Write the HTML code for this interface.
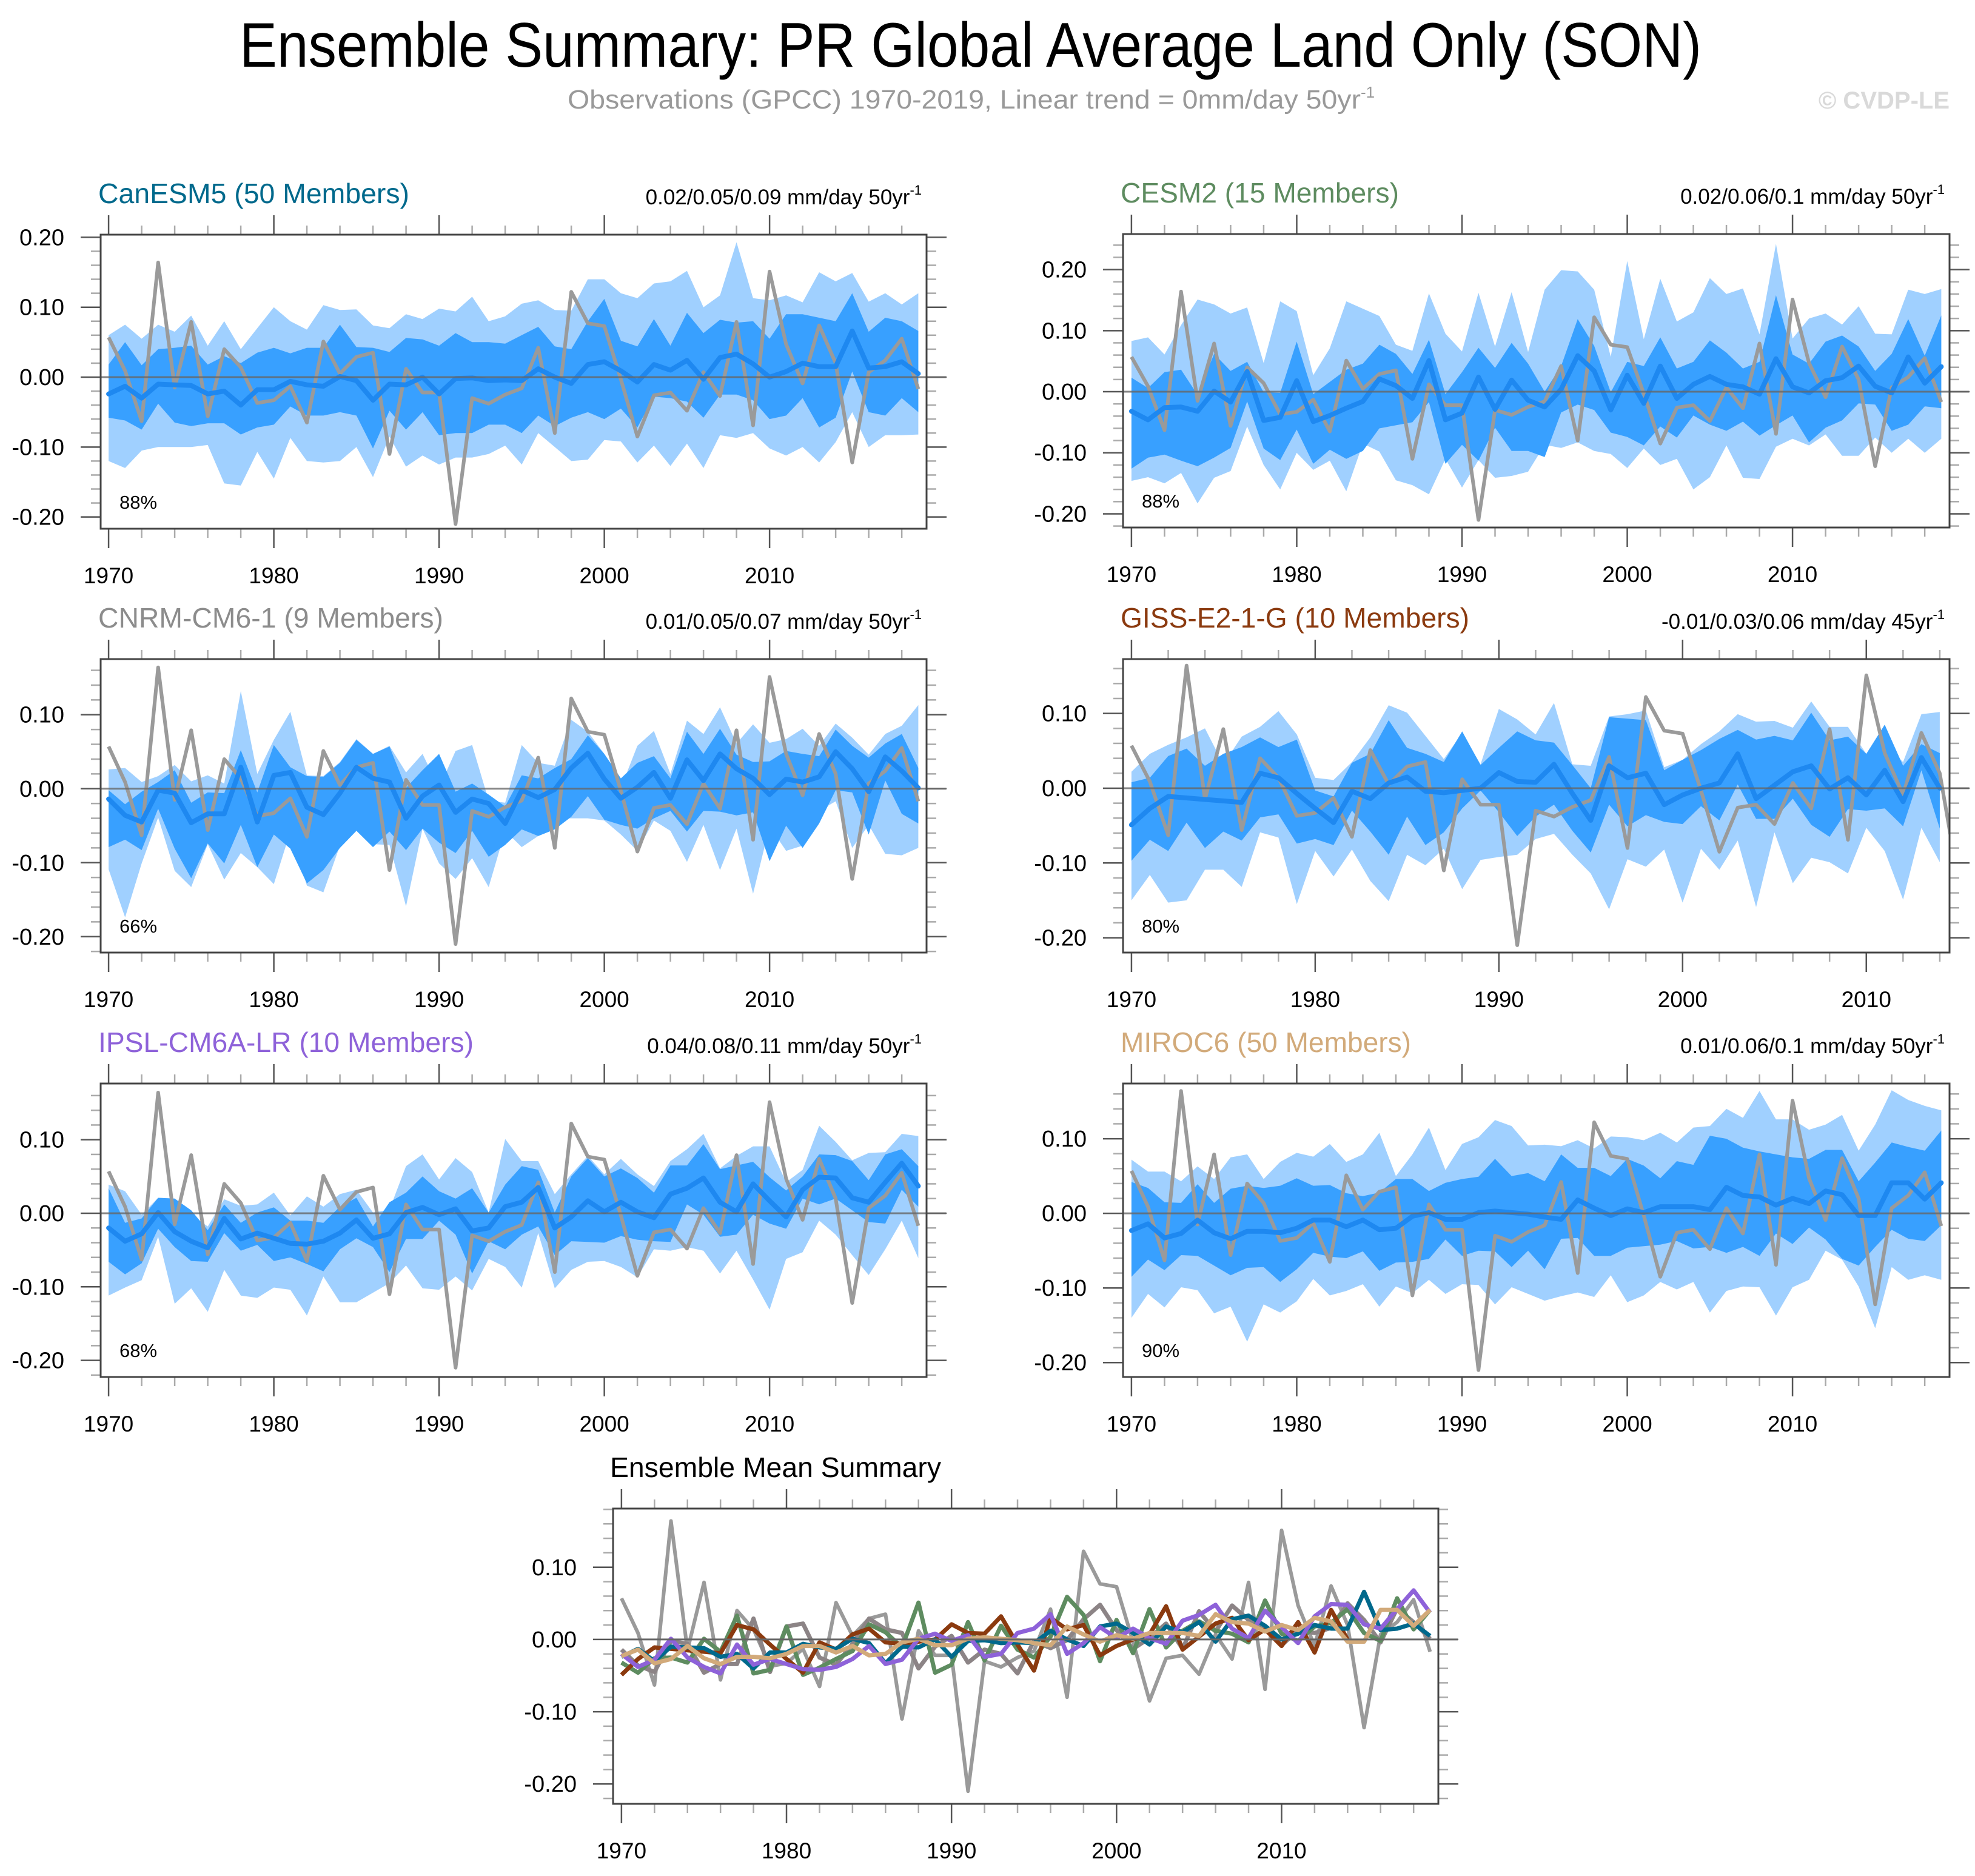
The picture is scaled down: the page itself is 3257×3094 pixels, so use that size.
<!DOCTYPE html>
<html><head><meta charset="utf-8">
<style>
html,body{margin:0;padding:0;background:#fff;}
svg{display:block;font-family:"Liberation Sans",Arial,sans-serif;}
</style></head>
<body>
<svg id="chart" xmlns="http://www.w3.org/2000/svg" width="3257" height="3094" viewBox="0 0 3257 3094">
<rect x="0" y="0" width="3257" height="3094" fill="#fff"/>
<text x="395" y="110" font-size="104" fill="#000" textLength="2411" lengthAdjust="spacingAndGlyphs">Ensemble Summary: PR Global Average Land Only (SON)</text>
<text x="936" y="179" font-size="44" fill="#999"><tspan textLength="1308" lengthAdjust="spacingAndGlyphs">Observations (GPCC) 1970-2019, Linear trend = 0mm/day 50yr</tspan><tspan font-size="26" dy="-18">-1</tspan></text>
<text x="3215" y="179" font-size="40" font-weight="bold" fill="#d9d9d9" text-anchor="end">© CVDP-LE</text>
</svg>
<script>
// ---- data ----
const years = [1970,1971,1972,1973,1974,1975,1976,1977,1978,1979,1980,1981,1982,1983,1984,1985,1986,1987,1988,1989,1990,1991,1992,1993,1994,1995,1996,1997,1998,1999,2000,2001,2002,2003,2004,2005,2006,2007,2008,2009,2010,2011,2012,2013,2014,2015,2016,2017,2018,2019];
const yearsGiss = years.slice(0,45);
const obs = [0.057,0.009,-0.063,0.164,-0.015,0.079,-0.056,0.040,0.014,-0.037,-0.033,-0.013,-0.065,0.051,0.005,0.029,0.035,-0.110,0.012,-0.022,-0.022,-0.210,-0.030,-0.038,-0.025,-0.016,0.042,-0.080,0.122,0.077,0.073,-0.003,-0.085,-0.026,-0.022,-0.048,0.007,-0.027,0.079,-0.069,0.151,0.047,-0.009,0.074,0.020,-0.122,0.007,0.024,0.055,-0.017];

const canMean = [-0.024,-0.013,-0.030,-0.010,-0.011,-0.012,-0.024,-0.020,-0.040,-0.018,-0.018,-0.006,-0.011,-0.013,0.001,-0.005,-0.033,-0.010,-0.011,0.000,-0.024,-0.002,-0.001,-0.005,-0.004,-0.005,0.012,0.000,-0.009,0.018,0.022,0.009,-0.007,0.018,0.010,0.024,-0.003,0.028,0.033,0.019,0.000,0.008,0.020,0.015,0.015,0.066,0.013,0.015,0.022,0.005];
const canHi2 = [0.060,0.075,0.055,0.075,0.065,0.088,0.045,0.080,0.040,0.070,0.100,0.080,0.068,0.103,0.096,0.097,0.074,0.070,0.090,0.083,0.098,0.094,0.115,0.080,0.087,0.105,0.110,0.096,0.095,0.140,0.140,0.120,0.113,0.134,0.137,0.152,0.100,0.117,0.193,0.113,0.110,0.117,0.107,0.150,0.137,0.149,0.108,0.120,0.104,0.120];
const canHi1 = [0.018,0.050,0.017,0.040,0.042,0.045,0.018,0.030,0.020,0.035,0.042,0.034,0.042,0.042,0.075,0.043,0.042,0.036,0.056,0.054,0.045,0.063,0.050,0.050,0.048,0.060,0.072,0.044,0.040,0.080,0.112,0.052,0.044,0.083,0.045,0.092,0.063,0.082,0.078,0.080,0.055,0.090,0.090,0.085,0.080,0.120,0.065,0.085,0.080,0.066];
const canLo1 = [-0.058,-0.062,-0.075,-0.038,-0.065,-0.070,-0.066,-0.066,-0.082,-0.072,-0.068,-0.042,-0.055,-0.055,-0.050,-0.055,-0.102,-0.048,-0.075,-0.050,-0.083,-0.080,-0.080,-0.068,-0.068,-0.080,-0.055,-0.070,-0.058,-0.050,-0.060,-0.045,-0.072,-0.028,-0.030,-0.035,-0.058,-0.025,-0.025,-0.033,-0.060,-0.055,-0.030,-0.072,-0.058,0.008,-0.050,-0.055,-0.030,-0.050];
const canLo2 = [-0.120,-0.130,-0.105,-0.100,-0.100,-0.100,-0.097,-0.152,-0.155,-0.107,-0.145,-0.087,-0.120,-0.122,-0.120,-0.100,-0.143,-0.085,-0.128,-0.112,-0.125,-0.115,-0.115,-0.110,-0.098,-0.125,-0.080,-0.100,-0.120,-0.118,-0.090,-0.092,-0.122,-0.098,-0.127,-0.095,-0.130,-0.083,-0.087,-0.080,-0.102,-0.112,-0.100,-0.122,-0.093,-0.050,-0.100,-0.083,-0.083,-0.082];

const cesmMean = [-0.032,-0.046,-0.026,-0.025,-0.032,0.001,-0.017,0.033,-0.047,-0.042,0.018,-0.049,-0.039,-0.027,-0.016,0.021,0.010,-0.011,0.051,-0.046,-0.035,0.024,-0.029,0.019,-0.014,-0.025,0.004,0.059,0.034,-0.030,0.027,-0.019,0.042,-0.011,0.012,0.025,0.012,0.008,-0.004,0.054,0.008,-0.002,0.018,0.023,0.042,0.009,-0.002,0.057,0.014,0.041];
const cesmHi2 = [0.083,0.089,0.061,0.109,0.151,0.143,0.128,0.138,0.047,0.148,0.132,0.027,0.071,0.148,0.136,0.124,0.077,0.067,0.161,0.095,0.066,0.162,0.074,0.163,0.065,0.167,0.199,0.197,0.167,0.057,0.214,0.086,0.185,0.115,0.130,0.186,0.160,0.169,0.094,0.242,0.087,0.120,0.128,0.110,0.140,0.095,0.094,0.167,0.160,0.168];
const cesmHi1 = [0.023,0.006,0.032,0.036,-0.005,0.062,0.034,0.049,-0.001,-0.002,0.082,-0.004,0.016,0.036,0.046,0.077,0.062,0.029,0.085,-0.004,0.032,0.072,0.039,0.080,0.046,0.000,0.042,0.119,0.075,-0.001,0.049,0.042,0.089,0.038,0.049,0.084,0.064,0.038,0.049,0.158,0.061,0.046,0.082,0.092,0.074,0.034,0.062,0.119,0.059,0.125];
const cesmLo1 = [-0.126,-0.108,-0.103,-0.113,-0.122,-0.108,-0.092,-0.016,-0.093,-0.112,-0.062,-0.118,-0.095,-0.110,-0.097,-0.060,-0.055,-0.050,-0.017,-0.118,-0.087,-0.113,-0.059,-0.097,-0.097,-0.107,-0.034,-0.021,-0.030,-0.067,-0.074,-0.088,-0.057,-0.075,-0.039,-0.054,-0.064,-0.049,-0.072,-0.055,-0.039,-0.083,-0.059,-0.047,-0.019,-0.021,-0.064,-0.054,-0.024,-0.027];
const cesmLo2 = [-0.146,-0.140,-0.150,-0.133,-0.183,-0.141,-0.130,-0.057,-0.120,-0.160,-0.100,-0.128,-0.113,-0.163,-0.085,-0.098,-0.145,-0.153,-0.168,-0.110,-0.157,-0.112,-0.141,-0.138,-0.131,-0.087,-0.092,-0.083,-0.097,-0.102,-0.125,-0.093,-0.120,-0.110,-0.160,-0.140,-0.088,-0.141,-0.143,-0.090,-0.077,-0.088,-0.070,-0.105,-0.105,-0.075,-0.100,-0.077,-0.100,-0.077];

const cnrmMean = [-0.014,-0.036,-0.045,-0.002,-0.006,-0.046,-0.034,-0.034,0.029,-0.045,0.018,0.022,-0.025,-0.035,-0.006,0.029,0.014,0.009,-0.040,-0.010,0.005,-0.032,-0.014,-0.020,-0.047,-0.002,-0.012,-0.001,0.028,0.048,0.013,-0.013,0.002,0.022,-0.013,0.039,0.011,0.047,0.027,0.014,-0.008,0.013,0.009,0.016,0.050,0.027,-0.004,0.043,0.024,0.001];
const cnrmHi2 = [0.026,0.028,0.009,0.017,0.032,0.010,0.018,0.007,0.132,0.020,0.066,0.104,0.018,0.017,0.036,0.067,0.047,0.058,0.022,0.047,0.001,0.051,0.059,-0.016,-0.019,0.059,0.035,0.031,0.093,0.077,0.047,0.001,0.058,0.078,0.020,0.092,0.074,0.110,0.061,0.087,0.062,0.067,0.081,0.058,0.088,0.069,0.046,0.074,0.085,0.113];
const cnrmHi1 = [-0.002,-0.021,-0.004,0.009,0.025,-0.019,-0.005,-0.006,0.052,-0.005,0.059,0.029,0.017,0.016,0.035,0.066,0.047,0.057,0.001,0.025,0.047,-0.004,0.007,-0.008,-0.024,0.018,0.014,0.028,0.040,0.072,0.047,0.014,0.035,0.044,0.014,0.077,0.047,0.081,0.046,0.036,0.037,0.051,0.047,0.044,0.080,0.058,0.042,0.061,0.074,0.028];
const cnrmLo1 = [-0.079,-0.069,-0.083,-0.027,-0.081,-0.121,-0.074,-0.101,-0.049,-0.106,-0.062,-0.081,-0.128,-0.110,-0.080,-0.057,-0.079,-0.058,-0.083,-0.054,-0.073,-0.087,-0.057,-0.092,-0.076,-0.055,-0.064,-0.055,-0.038,-0.010,-0.042,-0.049,-0.054,-0.040,-0.030,-0.058,-0.030,-0.031,-0.036,-0.032,-0.098,-0.050,-0.080,-0.047,-0.002,-0.005,-0.062,0.011,-0.034,-0.047];
const cnrmLo2 = [-0.109,-0.174,-0.101,-0.039,-0.111,-0.133,-0.075,-0.123,-0.087,-0.106,-0.129,-0.058,-0.131,-0.140,-0.077,-0.049,-0.075,-0.076,-0.159,-0.054,-0.101,-0.122,-0.094,-0.133,-0.057,-0.079,-0.064,-0.040,-0.040,-0.040,-0.043,-0.062,-0.084,-0.043,-0.057,-0.099,-0.049,-0.110,-0.054,-0.142,-0.051,-0.084,-0.077,-0.030,-0.017,-0.080,-0.049,-0.088,-0.090,-0.080];

const gissMean = [-0.049,-0.027,-0.011,-0.013,-0.015,-0.017,-0.019,0.020,0.014,-0.007,-0.027,-0.046,-0.004,-0.014,0.007,0.015,-0.004,-0.006,-0.003,0.000,0.021,0.009,0.008,0.032,-0.007,-0.043,0.030,0.014,0.020,-0.022,-0.009,0.000,0.007,0.046,-0.014,0.004,0.022,0.030,-0.001,0.014,-0.009,0.024,-0.018,0.041,0.000];
const gissHi2 = [0.022,0.046,0.058,0.068,0.080,0.032,0.069,0.082,0.103,0.072,0.014,0.011,0.035,0.068,0.111,0.101,0.070,0.039,0.074,0.032,0.106,0.092,0.072,0.114,0.032,0.030,0.096,0.099,0.104,0.028,0.038,0.059,0.076,0.099,0.089,0.090,0.081,0.116,0.082,0.082,0.046,0.059,0.035,0.099,0.102];
const gissHi1 = [0.008,0.014,0.043,0.053,0.030,0.046,0.055,0.068,0.055,0.065,-0.003,-0.011,0.034,0.046,0.091,0.054,0.046,0.035,0.076,0.031,0.054,0.076,0.064,0.061,0.031,0.000,0.095,0.093,0.091,0.024,0.038,0.051,0.066,0.078,0.065,0.070,0.064,0.101,0.064,0.069,0.046,0.085,0.030,0.059,0.047];
const gissLo1 = [-0.097,-0.069,-0.084,-0.046,-0.080,-0.058,-0.070,-0.039,-0.035,-0.074,-0.068,-0.076,-0.030,-0.058,-0.089,-0.038,-0.076,-0.059,-0.027,-0.003,-0.032,-0.064,-0.038,-0.022,-0.057,-0.086,-0.022,-0.051,-0.036,-0.045,-0.048,-0.024,-0.043,0.005,-0.041,-0.041,-0.014,-0.049,-0.065,-0.028,-0.030,-0.027,-0.051,0.024,-0.054];
const gissLo2 = [-0.150,-0.116,-0.153,-0.150,-0.109,-0.109,-0.132,-0.059,-0.066,-0.155,-0.084,-0.118,-0.082,-0.124,-0.151,-0.089,-0.103,-0.081,-0.135,-0.096,-0.092,-0.089,-0.068,-0.061,-0.089,-0.114,-0.162,-0.095,-0.105,-0.082,-0.153,-0.081,-0.109,-0.070,-0.159,-0.059,-0.127,-0.093,-0.099,-0.114,-0.053,-0.084,-0.149,-0.053,-0.099];

const ipslMean = [-0.020,-0.038,-0.028,0.001,-0.025,-0.038,-0.047,-0.007,-0.035,-0.027,-0.034,-0.041,-0.042,-0.038,-0.027,-0.009,-0.034,-0.028,0.001,0.008,-0.002,0.006,-0.024,-0.020,0.009,0.015,0.035,-0.020,-0.005,0.017,0.002,0.015,0.002,-0.006,0.026,0.034,0.048,0.015,0.002,0.040,0.017,-0.005,0.032,0.049,0.048,0.021,0.015,0.042,0.068,0.037];
const ipslHi2 = [0.039,0.030,-0.002,0.021,0.020,-0.002,-0.018,0.019,0.010,0.012,0.028,-0.003,0.023,0.009,0.026,0.032,0.001,0.005,0.064,0.080,0.046,0.075,0.056,0.001,0.101,0.071,0.071,0.026,0.053,0.078,0.053,0.074,0.053,0.037,0.071,0.087,0.108,0.061,0.078,0.091,0.091,0.042,0.059,0.119,0.097,0.072,0.082,0.083,0.108,0.105];
const ipslHi1 = [0.034,-0.013,-0.007,0.021,0.020,0.004,-0.023,0.012,-0.013,0.001,0.008,-0.010,-0.010,-0.013,0.009,0.021,-0.018,0.015,0.028,0.050,0.030,0.020,0.034,0.001,0.039,0.064,0.059,0.001,0.050,0.075,0.050,0.061,0.048,0.028,0.065,0.065,0.094,0.060,0.065,0.070,0.049,0.031,0.050,0.080,0.079,0.071,0.045,0.080,0.087,0.064];
const ipslLo1 = [-0.066,-0.083,-0.068,-0.021,-0.046,-0.065,-0.066,-0.027,-0.051,-0.043,-0.065,-0.060,-0.069,-0.079,-0.049,-0.034,-0.046,-0.080,-0.035,-0.035,-0.010,-0.029,-0.082,-0.038,-0.049,-0.029,-0.018,-0.057,-0.038,-0.039,-0.040,-0.031,-0.036,-0.038,-0.039,0.012,-0.002,-0.032,-0.029,-0.002,-0.014,-0.021,0.020,0.012,0.020,0.004,-0.012,-0.014,0.032,0.009];
const ipslLo2 = [-0.112,-0.101,-0.091,-0.032,-0.123,-0.102,-0.134,-0.077,-0.112,-0.115,-0.101,-0.104,-0.139,-0.086,-0.121,-0.121,-0.108,-0.095,-0.071,-0.102,-0.104,-0.086,-0.105,-0.062,-0.073,-0.101,-0.027,-0.102,-0.077,-0.066,-0.065,-0.073,-0.087,-0.049,-0.051,-0.046,-0.051,-0.082,-0.051,-0.090,-0.131,-0.062,-0.053,-0.010,-0.029,-0.057,-0.084,-0.049,-0.010,-0.061];

const mirocMean = [-0.023,-0.014,-0.033,-0.027,-0.009,-0.026,-0.034,-0.024,-0.024,-0.026,-0.020,-0.009,-0.009,-0.018,-0.009,-0.022,-0.020,-0.004,0.001,-0.008,-0.008,0.001,0.003,0.001,-0.001,-0.005,-0.008,0.018,0.007,-0.003,0.006,0.001,0.009,0.009,0.009,0.005,0.035,0.024,0.022,0.011,0.020,0.013,0.030,0.025,-0.003,-0.003,0.041,0.041,0.019,0.041];
const mirocHi2 = [0.072,0.056,0.056,0.043,0.063,0.046,0.075,0.079,0.046,0.069,0.081,0.076,0.093,0.069,0.079,0.108,0.050,0.079,0.115,0.058,0.093,0.102,0.125,0.117,0.091,0.092,0.090,0.098,0.087,0.103,0.102,0.098,0.108,0.095,0.115,0.117,0.140,0.128,0.164,0.126,0.126,0.112,0.119,0.132,0.084,0.119,0.165,0.152,0.144,0.138];
const mirocHi1 = [0.042,0.034,0.015,0.014,0.039,0.014,0.033,0.037,0.034,0.037,0.047,0.037,0.038,0.027,0.023,0.028,0.046,0.046,0.030,0.041,0.046,0.049,0.073,0.050,0.054,0.043,0.079,0.061,0.061,0.050,0.073,0.064,0.047,0.070,0.065,0.104,0.100,0.088,0.083,0.079,0.075,0.073,0.085,0.085,0.043,0.068,0.095,0.089,0.084,0.111];
const mirocLo1 = [-0.085,-0.062,-0.076,-0.056,-0.057,-0.070,-0.083,-0.073,-0.072,-0.092,-0.075,-0.053,-0.058,-0.060,-0.051,-0.077,-0.066,-0.065,-0.061,-0.035,-0.057,-0.050,-0.051,-0.072,-0.050,-0.075,-0.034,-0.033,-0.057,-0.057,-0.046,-0.044,-0.042,-0.037,-0.047,-0.045,-0.053,-0.045,-0.057,-0.027,-0.041,-0.019,-0.035,-0.061,-0.070,-0.045,-0.022,-0.034,-0.037,-0.016];
const mirocLo2 = [-0.140,-0.108,-0.126,-0.099,-0.103,-0.134,-0.125,-0.172,-0.122,-0.133,-0.118,-0.088,-0.110,-0.104,-0.095,-0.125,-0.098,-0.107,-0.089,-0.108,-0.095,-0.096,-0.122,-0.099,-0.108,-0.117,-0.111,-0.106,-0.112,-0.083,-0.119,-0.110,-0.092,-0.102,-0.092,-0.133,-0.104,-0.098,-0.099,-0.137,-0.099,-0.089,-0.050,-0.062,-0.098,-0.154,-0.072,-0.089,-0.083,-0.089];

const yTicksMain = [0.2,0.1,0,-0.1,-0.2];
const yTickLabelsMain = ["0.20","0.10","0.00","-0.10","-0.20"];
const xTickYears = [1970,1980,1990,2000,2010];
const xTickLabels = ["1970","1980","1990","2000","2010"];

// ---- helpers ----
const NS = "http://www.w3.org/2000/svg";
const svg = document.getElementById("chart");
function mk(tag, attrs, parent){
  const e = document.createElementNS(NS, tag);
  for (const k in attrs) e.setAttribute(k, attrs[k]);
  (parent||svg).appendChild(e);
  return e;
}
let clipCount = 0;

function drawAxes(g, P, key, yTicks, yLabels){
  const xS = y => P.left + (y - P.xa)/(P.xb - P.xa)*(P.right - P.left);
  const yS = v => P.top + (P.ymax - v)/(P.ymax - P.ymin)*(P.bottom - P.top);
  for (let k = Math.ceil(P.ymin/0.02 - 1e-6); k <= Math.floor(P.ymax/0.02 + 1e-6); k++){
    const v = k*0.02; const yy = yS(v);
    const major = Math.abs(k % 5) === 0;
    const L = major ? 33 : 16;
    const t1 = mk("line", {x1:P.left-L, x2:P.left, y1:yy, y2:yy, stroke: major?"#555":"#aaa", "stroke-width":2.5}, g);
    
    
    const t2 = mk("line", {x1:P.right, x2:P.right+L, y1:yy, y2:yy, stroke: major?"#555":"#aaa", "stroke-width":2.5}, g);
    
    
  }
  for (let i = 0; i < yTicks.length; i++){
    const lb = mk("text", {x:P.left-60, y:yS(yTicks[i])+13, "font-size":38, "text-anchor":"end", fill:"#000"}, g);
    lb.textContent = yLabels[i];
    
    
  }
  for (let yr = 1970; yr <= P.xb; yr += 2){
    const xx = xS(yr);
    const major = (yr % 10) === 0;
    const L = major ? 32 : 15;
    const b = mk("line", {x1:xx, x2:xx, y1:P.bottom, y2:P.bottom+L, stroke: major?"#555":"#aaa", "stroke-width":2.5}, g);
    
    
    const t = mk("line", {x1:xx, x2:xx, y1:P.top-L, y2:P.top, stroke: major?"#555":"#aaa", "stroke-width":2.5}, g);
    
    
  }
  for (let i = 0; i < xTickYears.length; i++){
    const lb = mk("text", {x:xS(xTickYears[i]), y:P.bottom+90, "font-size":37, "text-anchor":"middle", fill:"#000"}, g);
    lb.textContent = xTickLabels[i];
    
    
  }
  return {xS, yS};
}

function clipFor(P){
  const id = "clip" + (clipCount++);
  const cp = mk("clipPath", {id:id});
  mk("rect", {x:P.left, y:P.top, width:P.right-P.left, height:P.bottom-P.top}, cp);
  return "url(#" + id + ")";
}

function pts(xs, vals, xS, yS){
  return vals.map((v,i) => xS(xs[i]).toFixed(1) + "," + yS(v).toFixed(1)).join(" ");
}

function panel(P){
  const g = mk("g", {});
  
  
  const ax = drawAxes(g, P, P.key, P.yTicks, P.yLabels);
  const xS = ax.xS, yS = ax.yS;
  const cl = clipFor(P);
  const pg = mk("g", {"clip-path": cl}, g);
  const xs = P.yrs;
  const rx = xs.slice().reverse();
  const outer = mk("polygon", {points: pts(xs, P.hi2, xS, yS) + " " + pts(rx, P.lo2.slice().reverse(), xS, yS), fill:"#a0d0ff"}, pg);
  
  
  const inner = mk("polygon", {points: pts(xs, P.hi1, xS, yS) + " " + pts(rx, P.lo1.slice().reverse(), xS, yS), fill:"#38a0ff"}, pg);
  
  
  const z = mk("line", {x1:P.left, x2:P.right+32, y1:yS(0), y2:yS(0), stroke:"#666", "stroke-width":3, "stroke-opacity":0.8}, g);
  
  
  const ob = mk("polyline", {points: pts(years, obs, xS, yS), fill:"none", stroke:"#9a9a9a", "stroke-width":6, "stroke-linejoin":"round"}, pg);
  
  
  const mn = mk("polyline", {points: pts(xs, P.mean, xS, yS), fill:"none", stroke:"#1e88f0", "stroke-width":8, "stroke-linejoin":"round", "stroke-linecap":"round"}, pg);
  
  
  const fr = mk("rect", {x:P.left, y:P.top, width:P.right-P.left, height:P.bottom-P.top, fill:"none", stroke:"#444", "stroke-width":3}, g);
  
  
  const tt = mk("text", {x:P.left-4, y:P.top-52, "font-size":46, fill:P.color, textLength:P.titleW, lengthAdjust:"spacingAndGlyphs"}, g);
  tt.textContent = P.title;
  
  
  const tr = mk("text", {x:P.right-8, y:P.top-50, "font-size":35, fill:"#000", "text-anchor":"end"}, g);
  const ts1 = mk("tspan", {}, tr); ts1.textContent = P.trend;
  const ts2 = mk("tspan", {"font-size":22, dy:-16}, tr); ts2.textContent = "-1";
  
  
  const pc = mk("text", {x:P.left+31, y:P.bottom-33, "font-size":31, fill:"#000"}, g);
  pc.textContent = P.pct;
  
  
}

const yT2 = [0.1,0,-0.1,-0.2];
const yL2 = ["0.10","0.00","-0.10","-0.20"];

panel({key:"canesm5", left:166, right:1528, top:387, bottom:872, xa:1969.52, xb:2019.5, ymax:0.2038, ymin:-0.2168,
  yrs:years, mean:canMean, hi2:canHi2, hi1:canHi1, lo1:canLo1, lo2:canLo2, yTicks:yTicksMain, yLabels:yTickLabelsMain,
  title:"CanESM5 (50 Members)", titleW:513, color:"#00698c", trend:"0.02/0.05/0.09 mm/day 50yr", pct:"88%"});
panel({key:"cesm2", left:1852, right:3215, top:386, bottom:870, xa:1969.49, xb:2019.5, ymax:0.2582, ymin:-0.2224,
  yrs:years, mean:cesmMean, hi2:cesmHi2, hi1:cesmHi1, lo1:cesmLo1, lo2:cesmLo2, yTicks:yTicksMain, yLabels:yTickLabelsMain,
  title:"CESM2 (15 Members)", titleW:459, color:"#5e8c60", trend:"0.02/0.06/0.1 mm/day 50yr", pct:"88%"});
panel({key:"cnrm-cm6-1", left:166, right:1528, top:1087, bottom:1571, xa:1969.52, xb:2019.5, ymax:0.1752, ymin:-0.2215,
  yrs:years, mean:cnrmMean, hi2:cnrmHi2, hi1:cnrmHi1, lo1:cnrmLo1, lo2:cnrmLo2, yTicks:yT2, yLabels:yL2,
  title:"CNRM-CM6-1 (9 Members)", titleW:569, color:"#8c8c8c", trend:"0.01/0.05/0.07 mm/day 50yr", pct:"66%"});
panel({key:"giss-e2-1-g", left:1852, right:3215, top:1087, bottom:1571, xa:1969.54, xb:2014.53, ymax:0.1727, ymin:-0.2198,
  yrs:yearsGiss, mean:gissMean, hi2:gissHi2, hi1:gissHi1, lo1:gissLo1, lo2:gissLo2, yTicks:yT2, yLabels:yL2,
  title:"GISS-E2-1-G (10 Members)", titleW:575, color:"#8b3a0f", trend:"-0.01/0.03/0.06 mm/day 45yr", pct:"80%"});
panel({key:"ipsl-cm6a-lr", left:166, right:1528, top:1787, bottom:2271, xa:1969.52, xb:2019.5, ymax:0.1764, ymin:-0.2226,
  yrs:years, mean:ipslMean, hi2:ipslHi2, hi1:ipslHi1, lo1:ipslLo1, lo2:ipslLo2, yTicks:yT2, yLabels:yL2,
  title:"IPSL-CM6A-LR (10 Members)", titleW:619, color:"#8e62d9", trend:"0.04/0.08/0.11 mm/day 50yr", pct:"68%"});
panel({key:"miroc6", left:1852, right:3215, top:1787, bottom:2271, xa:1969.49, xb:2019.5, ymax:0.1740, ymin:-0.2193,
  yrs:years, mean:mirocMean, hi2:mirocHi2, hi1:mirocHi1, lo1:mirocLo1, lo2:mirocLo2, yTicks:yT2, yLabels:yL2,
  title:"MIROC6 (50 Members)", titleW:479, color:"#d2aa7a", trend:"0.01/0.06/0.1 mm/day 50yr", pct:"90%"});

// ---- ensemble mean summary panel ----
(function(){
  const P = {key:"mean-summary", left:1011, right:2372, top:2488, bottom:2975, xa:1969.49, xb:2019.5, ymax:0.1812, ymin:-0.2275};
  const g = mk("g", {});
  
  
  const ax = drawAxes(g, P, P.key, yT2, yL2);
  const xS = ax.xS, yS = ax.yS;
  const cl = clipFor(P);
  const pg = mk("g", {"clip-path": cl}, g);
  const z = mk("line", {x1:P.left, x2:P.right+32, y1:yS(0), y2:yS(0), stroke:"#666", "stroke-width":3}, g);
  
  
  const ob = mk("polyline", {points: pts(years, obs, xS, yS), fill:"none", stroke:"#9a9a9a", "stroke-width":6, "stroke-linejoin":"round"}, pg);
  
  
  const series = [
    ["cnrm-cm6-1", years, cnrmMean, "#8c8486"],
    ["cesm2", years, cesmMean, "#5e8c60"],
    ["giss-e2-1-g", yearsGiss, gissMean, "#8b3a0f"],
    ["canesm5", years, canMean, "#00698c"],
    ["ipsl-cm6a-lr", years, ipslMean, "#8e62d9"],
    ["miroc6", years, mirocMean, "#d2aa7a"]
  ];
  for (const s of series){
    const l = mk("polyline", {points: pts(s[1], s[2], xS, yS), fill:"none", stroke:s[3], "stroke-width":7, "stroke-linejoin":"round"}, pg);
    
    
  }
  const fr = mk("rect", {x:P.left, y:P.top, width:P.right-P.left, height:P.bottom-P.top, fill:"none", stroke:"#444", "stroke-width":3}, g);
  
  
  const tt = mk("text", {x:1006, y:2436, "font-size":46, fill:"#000", textLength:546, lengthAdjust:"spacingAndGlyphs"}, g);
  tt.textContent = "Ensemble Mean Summary";
  
  
})();
</script>
</body></html>
